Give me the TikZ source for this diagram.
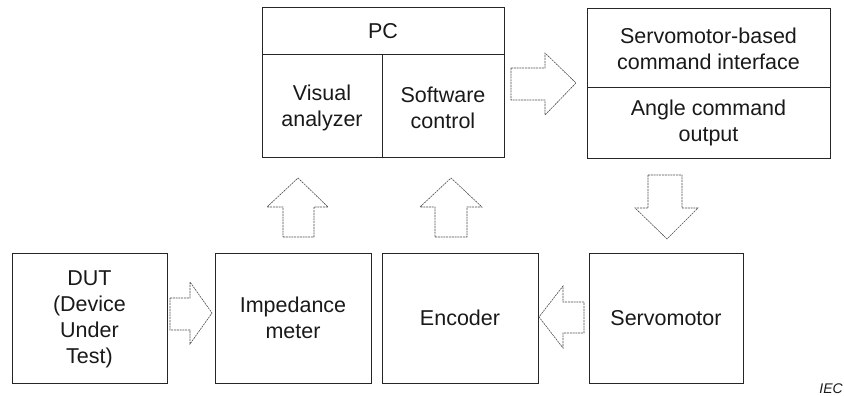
\documentclass[tikz,border=0pt]{standalone}
\usepackage{fontspec}
\setmainfont{Liberation Sans}
\begin{document}
\begin{tikzpicture}[x=1pt,y=-1pt,
  box/.style={draw=black!85, line width=0.8pt, inner sep=0pt},
  lbl/.style={align=center, font=\fontsize{21.5}{26}\selectfont, text=black!90},
  bigarrow/.style={draw=black!70, line width=0.6pt, dash pattern=on 2pt off 0.8pt, line join=miter},
  divider/.style={draw=black!85, line width=0.8pt}]
\useasboundingbox (0,0) rectangle (844,396);
% PC box
\node[box, minimum width=242pt, minimum height=150pt] (pc) at (383,82) {};
\draw[divider] (262,54) coordinate (pcl) -- (504,54) coordinate (pcr);
\draw[divider] (382,54) -- (382,157);
\node[lbl] (pct) at (383,31) {PC};
\node[lbl] (va) at (322,108) {Visual\\analyzer};
\node[lbl] (sc) at (443,108) {Software\\control};
% Command interface box
\node[box, minimum width=243pt, minimum height=150pt] (cmd) at (708.5,83) {};
\draw[divider] (587,87) -- (830,87);
\node[lbl] (cmdt) at (708.5,49) {Servomotor-based\\command interface};
\node[lbl] (ang) at (708.5,123) {Angle command\\output};
% Bottom boxes
\node[box, minimum width=155pt, minimum height=130pt] (dut) at (89.5,318) {};
\node[lbl] (dutt) at (89.5,319) {DUT\\(Device\\Under\\Test)};
\node[box, minimum width=156pt, minimum height=130pt] (imp) at (293,318) {};
\node[lbl] (impt) at (293,318) {Impedance\\meter};
\node[box, minimum width=156pt, minimum height=130pt] (enc) at (460,318) {};
\node[lbl] (enct) at (460,318) {Encoder};
\node[box, minimum width=154pt, minimum height=130pt] (srv) at (666,318) {};
\node[lbl] (srvt) at (666,318) {Servomotor};
% Block arrows
\draw[bigarrow] (511,68) -- (545,68) -- (545,53) -- (576,83) -- (545,115) -- (545,100) -- (511,100) -- cycle;
\draw[bigarrow] (648,175) -- (682,175) -- (682,208) -- (698,208) -- (667,239) -- (635,208) -- (648,208) -- cycle;
\draw[bigarrow] (283,237) -- (314,237) -- (314,207) -- (328,207) -- (298,178) -- (267,207) -- (283,207) -- cycle;
\draw[bigarrow] (435,237) -- (467,237) -- (467,207) -- (482,207) -- (451,178) -- (420,207) -- (435,207) -- cycle;
\draw[bigarrow] (170,298) -- (190,298) -- (190,282) -- (212,313) -- (190,344) -- (190,330) -- (170,330) -- cycle;
\draw[bigarrow] (584,302) -- (563,302) -- (563,286) -- (539,317) -- (563,348) -- (563,333) -- (584,333) -- cycle;
% IEC mark
\node[anchor=east, font=\fontsize{14}{16}\selectfont\itshape, text=black!90, inner sep=0pt] (iec) at (843,388.5) {IEC};
\end{tikzpicture}
\end{document}
